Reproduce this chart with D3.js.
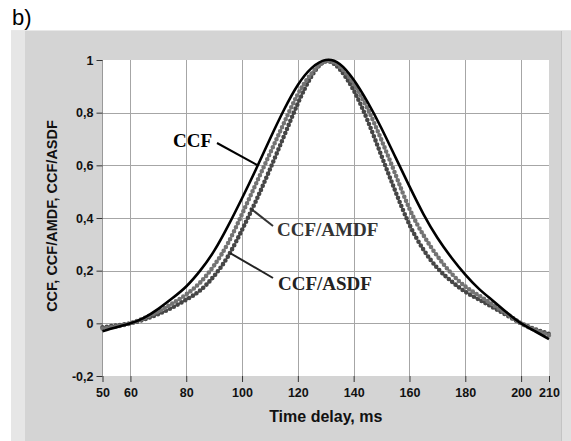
<!DOCTYPE html>
<html>
  <head>
    <meta charset="utf-8">
    <title>CCF curves</title>
    <style>
      body { margin: 0; background: #fff; }
      svg { display: block; }
      .tick-label { font-family: "Liberation Sans", Arial, sans-serif; font-weight: bold; font-size: 12.5px; fill: #111; }
      .axis-title { font-family: "Liberation Sans", Arial, sans-serif; font-weight: bold; fill: #111; }
      .curve-label { font-family: "Liberation Serif", "Times New Roman", serif; font-weight: bold; font-size: 19px; }
    </style>
    <script src="https://d3js.org/d3.v7.min.js"></script>
  </head>
  <body>
    <div id="chart"></div>
    <script>
// time delay, ms
var delays = [50, 55, 60, 65, 70, 75, 80, 85, 90, 95, 100, 105, 110, 115, 120, 125, 130,
              135, 140, 145, 150, 155, 160, 165, 170, 175, 180, 185, 190, 195, 200, 205, 210];

var ccf = [-0.03, -0.015, 0.0, 0.022, 0.055, 0.095, 0.14, 0.20, 0.275, 0.37, 0.475, 0.585, 0.70, 0.81, 0.905, 0.97, 1.0,
           0.985, 0.925, 0.84, 0.74, 0.63, 0.52, 0.415, 0.325, 0.25, 0.185, 0.13, 0.085, 0.04, 0.0, -0.03, -0.06];

var ccfAmdf = [-0.02, -0.012, 0.0, 0.02, 0.045, 0.075, 0.11, 0.155, 0.22, 0.305, 0.415, 0.53, 0.645, 0.76, 0.87, 0.95, 0.995,
               0.975, 0.91, 0.815, 0.695, 0.565, 0.435, 0.335, 0.255, 0.19, 0.14, 0.105, 0.07, 0.035, 0.0, -0.025, -0.045];

var ccfAsdf = [-0.015, -0.008, 0.0, 0.015, 0.035, 0.06, 0.09, 0.125, 0.18, 0.255, 0.355, 0.465, 0.585, 0.71, 0.835, 0.94, 0.995,
               0.965, 0.885, 0.77, 0.635, 0.50, 0.375, 0.28, 0.21, 0.16, 0.12, 0.09, 0.06, 0.03, 0.0, -0.022, -0.04];

var xTicks = [50, 60, 80, 100, 120, 140, 160, 180, 200, 210];
var yTicks = [-0.2, 0, 0.2, 0.4, 0.6, 0.8, 1];

var width = 571;
var height = 441;

var svg = d3.select("#chart").append("svg")
  .attr("width", width)
  .attr("height", height);

// panel background
svg.append("rect").attr("x", 11).attr("y", 30).attr("width", 555).attr("height", 411).attr("fill", "#d4d4d4");
svg.append("rect").attr("x", 11).attr("y", 30).attr("width", 14).attr("height", 411).attr("fill", "#e6e6e6");
svg.append("rect").attr("x", 561).attr("y", 30).attr("width", 10).attr("height", 411).attr("fill", "#e0e0e0");
svg.append("line").attr("x1", 561.5).attr("x2", 561.5).attr("y1", 30).attr("y2", 441).attr("stroke", "#c4c4c4");
svg.append("line").attr("x1", 11).attr("x2", 571).attr("y1", 30.5).attr("y2", 30.5).attr("stroke", "#e8e8e8");

svg.append("text")
  .attr("x", 12).attr("y", 25)
  .style("font-family", "Liberation Sans, Arial, sans-serif")
  .style("font-size", "22px")
  .text("b)");

// scales
var x = d3.scaleLinear().domain([50, 210]).range([102.5, 549]);
var y = d3.scaleLinear().domain([-0.2, 1]).range([376, 60]);

// comma decimals, plain hyphen minus
var fmt = function(d) { return String(+d.toFixed(1)).replace(".", ","); };

// plot area
svg.append("rect")
  .attr("x", x(50)).attr("y", y(1))
  .attr("width", x(210) - x(50)).attr("height", y(-0.2) - y(1))
  .attr("fill", "#fff");

// grid
svg.append("g").selectAll("line")
  .data(xTicks.filter(d => d > 50 && d < 210)).enter()
  .append("line")
  .attr("x1", d => Math.round(x(d)) + 0.5).attr("x2", d => Math.round(x(d)) + 0.5)
  .attr("y1", y(1)).attr("y2", y(-0.2))
  .attr("stroke", "#a6a6a6");

svg.append("g").selectAll("line")
  .data(yTicks.filter(d => d > -0.2 && d < 1)).enter()
  .append("line")
  .attr("x1", x(50)).attr("x2", x(210))
  .attr("y1", d => Math.round(y(d)) + 0.5).attr("y2", d => Math.round(y(d)) + 0.5)
  .attr("stroke", "#a6a6a6");

svg.append("line")
  .attr("x1", x(50)).attr("x2", x(50)).attr("y1", y(1)).attr("y2", y(-0.2))
  .attr("stroke", "#999");

// axes
var xAxis = d3.axisBottom(x).tickValues(xTicks).tickSize(6).tickPadding(6).tickFormat(d => d);
var yAxis = d3.axisLeft(y).tickValues(yTicks).tickSize(6).tickPadding(3).tickFormat(fmt);

var gx = svg.append("g")
  .attr("transform", `translate(0, ${y(-0.2)})`)
  .call(xAxis);
var gy = svg.append("g")
  .attr("transform", `translate(${x(50)}, 0)`)
  .call(yAxis);

[gx, gy].forEach(function(g) {
  g.select(".domain").remove();
  g.selectAll(".tick line").attr("stroke", "#333");
  g.selectAll(".tick text").attr("class", "tick-label").attr("fill", null);
});

svg.append("text")
  .attr("class", "axis-title")
  .attr("x", (x(50) + x(210)) / 2).attr("y", 422)
  .attr("text-anchor", "middle")
  .style("font-size", "16px")
  .text("Time delay, ms");

svg.append("text")
  .attr("class", "axis-title")
  .attr("transform", "translate(57, 216) rotate(-90)")
  .attr("text-anchor", "middle")
  .style("font-size", "14.5px")
  .text("CCF, CCF/AMDF, CCF/ASDF");

// curves
var series = [
  { name: "CCF/ASDF", values: ccfAsdf, color: "#464646", dotted: true },
  { name: "CCF/AMDF", values: ccfAmdf, color: "#737373", dotted: true },
  { name: "CCF", values: ccf, color: "#000", dotted: false }
];

var line = d3.line()
  .x((d, i) => x(delays[i]))
  .y(d => y(d))
  .curve(d3.curveNatural);

var plot = svg.append("g");
series.forEach(function(s) {
  var p = plot.append("path")
    .attr("d", line(s.values))
    .attr("fill", "none")
    .attr("stroke", s.color);
  if (s.dotted) {
    p.attr("stroke-width", 4.6)
     .attr("stroke-linecap", "round")
     .attr("stroke-dasharray", "0 4.4");
  } else {
    p.attr("stroke-width", 2.6);
  }
});

// labels with leader lines
var labels = [
  { text: "CCF", tx: 173, ty: 147, color: "#000", lx1: 217, ly1: 143, lx2: 257, ly2: 165 },
  { text: "CCF/AMDF", tx: 277, ty: 236, color: "#333", lx1: 273, ly1: 226, lx2: 250, ly2: 208 },
  { text: "CCF/ASDF", tx: 278, ty: 290, color: "#222", lx1: 273, ly1: 278, lx2: 230, ly2: 253 }
];

labels.forEach(function(l) {
  svg.append("line")
    .attr("x1", l.lx1).attr("y1", l.ly1).attr("x2", l.lx2).attr("y2", l.ly2)
    .attr("stroke", l.color).attr("stroke-width", 2);
  svg.append("text")
    .attr("class", "curve-label")
    .attr("x", l.tx).attr("y", l.ty)
    .attr("fill", l.color)
    .text(l.text);
});
    </script>
  </body>
</html>
